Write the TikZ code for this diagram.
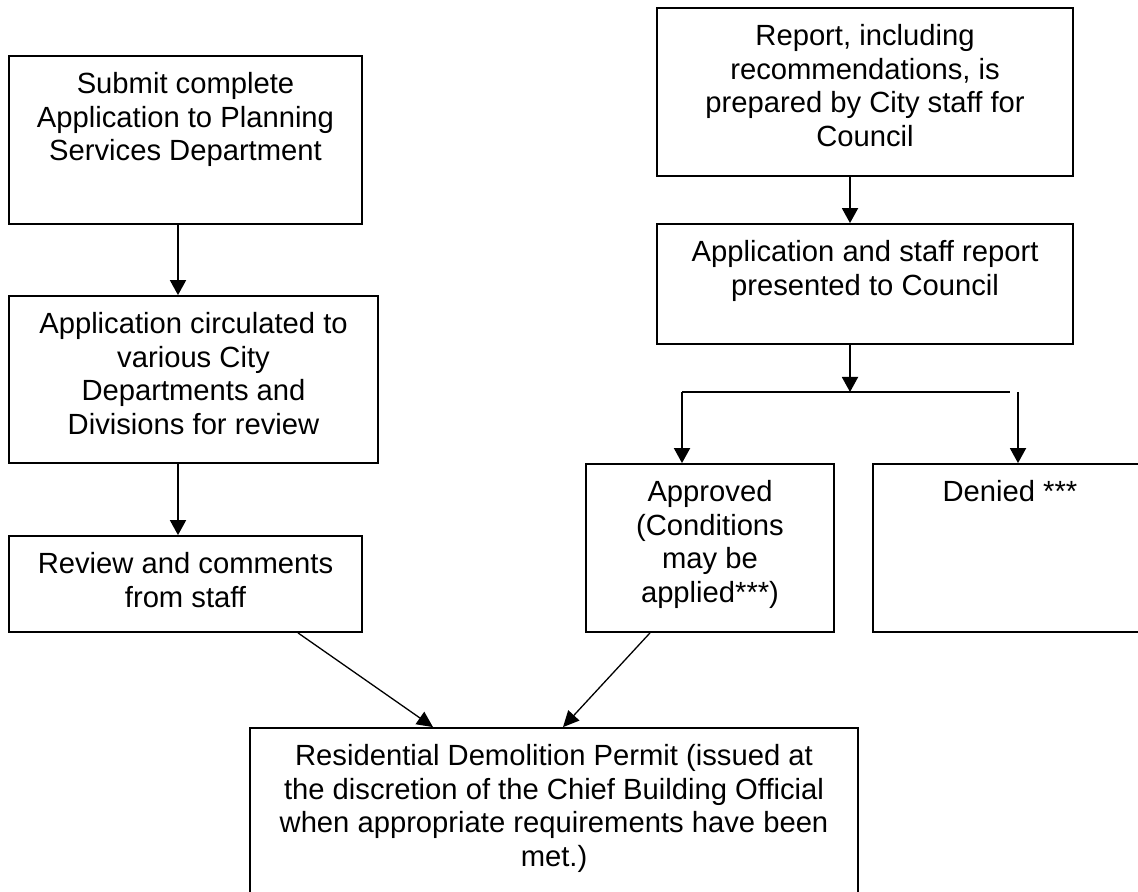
\documentclass[tikz,border=0pt]{standalone}
\usepackage{fontspec}
\setmainfont{Liberation Sans}
\usetikzlibrary{arrows.meta}
\begin{document}
\begin{tikzpicture}[x=0.5pt,y=-0.5pt,
  box/.style={draw=black, line width=0.9pt, inner sep=0pt, rectangle},
  txt/.style={anchor=north, align=center, inner sep=0pt, font=\fontsize{14.6pt}{16.75pt}\selectfont, yshift=-8.5pt},
  arr/.style={line width=0.9pt, -{Triangle[length=7.5pt,width=8pt]}},
  darr/.style={line width=0.65pt, -{Triangle[length=8pt,width=7.5pt]}},
  ln/.style={line width=0.9pt}]
\useasboundingbox (0,0) rectangle (1138,892);
\clip (0,0) rectangle (1138,892);
% left column
\node[box, minimum width=176.5pt, minimum height=84pt] (b1) at (185.5,140) {};
\node[txt] (t1) at (b1.north) {Submit complete\\Application to Planning\\Services Department};
\node[box, minimum width=184.5pt, minimum height=83.5pt] (b2) at (193.5,379.5) {};
\node[txt] (t2) at (b2.north) {Application circulated to\\various City\\Departments and\\Divisions for review};
\node[box, minimum width=176.5pt, minimum height=48pt] (b3) at (185.5,584) {};
\node[txt] (t3) at (b3.north) {Review and comments\\from staff};
% right column
\node[box, minimum width=208pt, minimum height=84pt] (r1) at (865,92) {};
\node[txt] (tr1) at (r1.north) {Report, including\\recommendations, is\\prepared by City staff for\\Council};
\node[box, minimum width=208pt, minimum height=60pt] (r2) at (865,284) {};
\node[txt] (tr2) at (r2.north) {Application and staff report\\presented to Council};
\node[box, minimum width=124pt, minimum height=84pt] (ap) at (710,548) {};
\node[txt] (tap) at (ap.north) {Approved\\(Conditions\\may be\\applied***)};
\node[box, minimum width=143.5pt, minimum height=84pt] (dn) at (1016.5,548) {};
\coordinate (dnx) at (1010,0);
\node[txt] (tdn) at (dn.north -| dnx) {Denied ***};
% bottom
\node[box, minimum width=304pt, minimum height=90pt] (bt) at (554,818) {};
\node[txt] (tbt) at (bt.north) {Residential Demolition Permit (issued at\\the discretion of the Chief Building Official\\when appropriate requirements have been\\met.)};
% connector positions
\coordinate (cl) at (178,0);
\coordinate (cr) at (850,0);
\coordinate (jL) at (682,392);
\coordinate (jM) at (850,392);
\coordinate (jE) at (1010,392);
\coordinate (jR) at (1018,392);
\coordinate (d1s) at (298,0);
\coordinate (d1e) at (433,0);
\coordinate (d2s) at (650,0);
\coordinate (d2e) at (563,0);
% connectors
\draw[arr] (b1.south -| cl) -- (b2.north -| cl);
\draw[arr] (b2.south -| cl) -- (b3.north -| cl);
\draw[arr] (r1.south -| cr) -- (r2.north -| cr);
\draw[arr] (r2.south -| cr) -- (jM);
\draw[ln] (jL) -- (jE);
\draw[arr] (jL) -- (ap.north -| jL);
\draw[arr] (jR) -- (dn.north -| jR);
\draw[darr] (b3.south -| d1s) -- (bt.north -| d1e);
\draw[darr] (ap.south -| d2s) -- (bt.north -| d2e);
\end{tikzpicture}
\end{document}
